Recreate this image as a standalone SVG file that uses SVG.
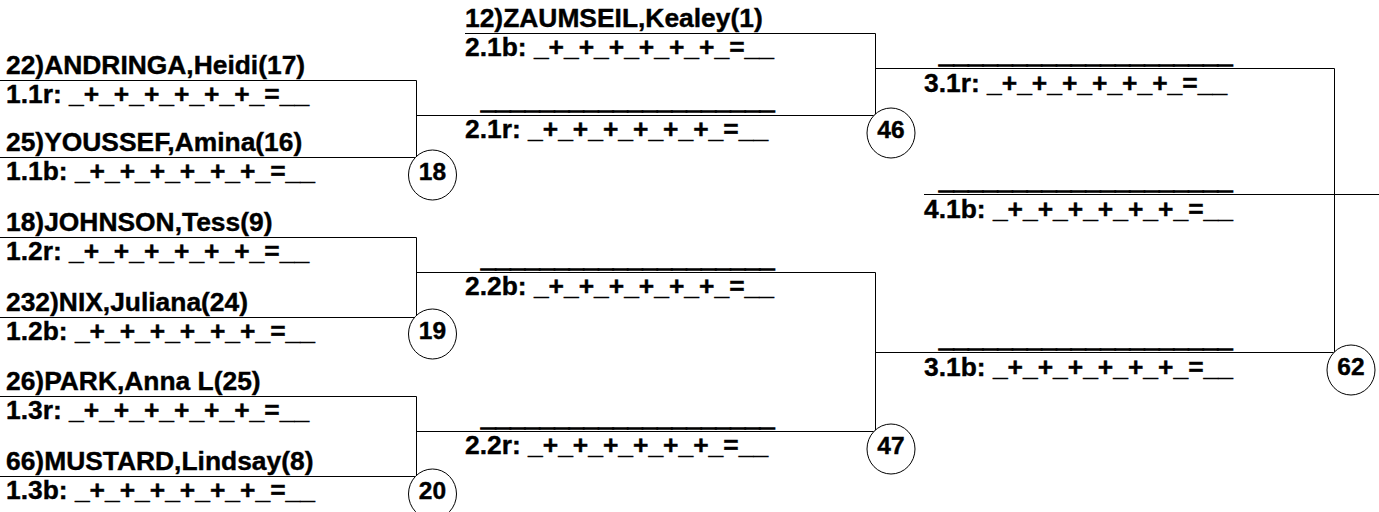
<svg xmlns="http://www.w3.org/2000/svg" width="1379" height="512" viewBox="0 0 1379 512">
<style>
text{font-family:"Liberation Sans",Arial,sans-serif;font-weight:bold;font-size:26.4px;fill:#000;stroke:#000;stroke-width:0.4}
.num{font-size:24.5px;text-anchor:middle}
.blank{stroke-width:1.4}
.ln{stroke:#000;stroke-width:1;fill:none}
.c{stroke:#000;stroke-width:1;fill:#fff}
</style>
<rect width="1379" height="512" fill="#fff"/>
<g id="connectors" class="ln">
<path d="M0 80.5H416.5V157.5H0"/>
<path d="M416.5 115.5H875.5"/>
<path d="M0 237.5H416.5V317.5H0"/>
<path d="M416.5 272.5H875.5"/>
<path d="M0 396.5H416.5V476.5H0"/>
<path d="M416.5 431.5H875.5"/>
<path d="M465 33.5H875.5V115.5"/>
<path d="M875.5 272.5V431.5"/>
<path d="M875.5 68.5H1334.5V352.5H875.5"/>
<path d="M924 194.5H1379"/>
</g>
<g id="m1-1">
<text x="6" y="74">22)ANDRINGA,Heidi(17)</text>
<text x="6" y="103">1.1r: _+_+_+_+_+_+_=__</text>
<text x="6" y="151">25)YOUSSEF,Amina(16)</text>
<text x="6" y="180">1.1b: _+_+_+_+_+_+_=__</text>
</g>
<g id="m1-2">
<text x="6" y="231">18)JOHNSON,Tess(9)</text>
<text x="6" y="260">1.2r: _+_+_+_+_+_+_=__</text>
<text x="6" y="311">232)NIX,Juliana(24)</text>
<text x="6" y="340">1.2b: _+_+_+_+_+_+_=__</text>
</g>
<g id="m1-3">
<text x="6" y="390">26)PARK,Anna L(25)</text>
<text x="6" y="419">1.3r: _+_+_+_+_+_+_=__</text>
<text x="6" y="470">66)MUSTARD,Lindsay(8)</text>
<text x="6" y="499">1.3b: _+_+_+_+_+_+_=__</text>
</g>
<g id="m2-1">
<text x="465" y="27">12)ZAUMSEIL,Kealey(1)</text>
<text x="465" y="56">2.1b: _+_+_+_+_+_+_=__</text>
<text class="blank" x="481" y="109">____________________</text>
<text x="465" y="138">2.1r: _+_+_+_+_+_+_=__</text>
</g>
<g id="m2-2">
<text class="blank" x="481" y="267">____________________</text>
<text x="465" y="295">2.2b: _+_+_+_+_+_+_=__</text>
<text class="blank" x="481" y="426">____________________</text>
<text x="465" y="454">2.2r: _+_+_+_+_+_+_=__</text>
</g>
<g id="m3-1">
<text class="blank" x="939" y="63">____________________</text>
<text x="924" y="92">3.1r: _+_+_+_+_+_+_=__</text>
<text class="blank" x="939" y="347">____________________</text>
<text x="924" y="376">3.1b: _+_+_+_+_+_+_=__</text>
</g>
<g id="m4-1">
<text class="blank" x="939" y="189">____________________</text>
<text x="924" y="218">4.1b: _+_+_+_+_+_+_=__</text>
</g>
<g id="b18"><ellipse class="c" cx="432.5" cy="175" rx="24" ry="25"/><text class="num" x="432.5" y="180">18</text></g>
<g id="b19"><ellipse class="c" cx="432.5" cy="334" rx="24" ry="25"/><text class="num" x="432.5" y="339">19</text></g>
<g id="b20"><ellipse class="c" cx="432.5" cy="494" rx="24" ry="25"/><text class="num" x="432.5" y="499">20</text></g>
<g id="b46"><ellipse class="c" cx="891" cy="133" rx="24" ry="25"/><text class="num" x="891" y="138">46</text></g>
<g id="b47"><ellipse class="c" cx="891" cy="449" rx="24" ry="25"/><text class="num" x="891" y="454">47</text></g>
<g id="b62"><ellipse class="c" cx="1351" cy="370" rx="24" ry="25"/><text class="num" x="1351" y="375">62</text></g>
</svg>
